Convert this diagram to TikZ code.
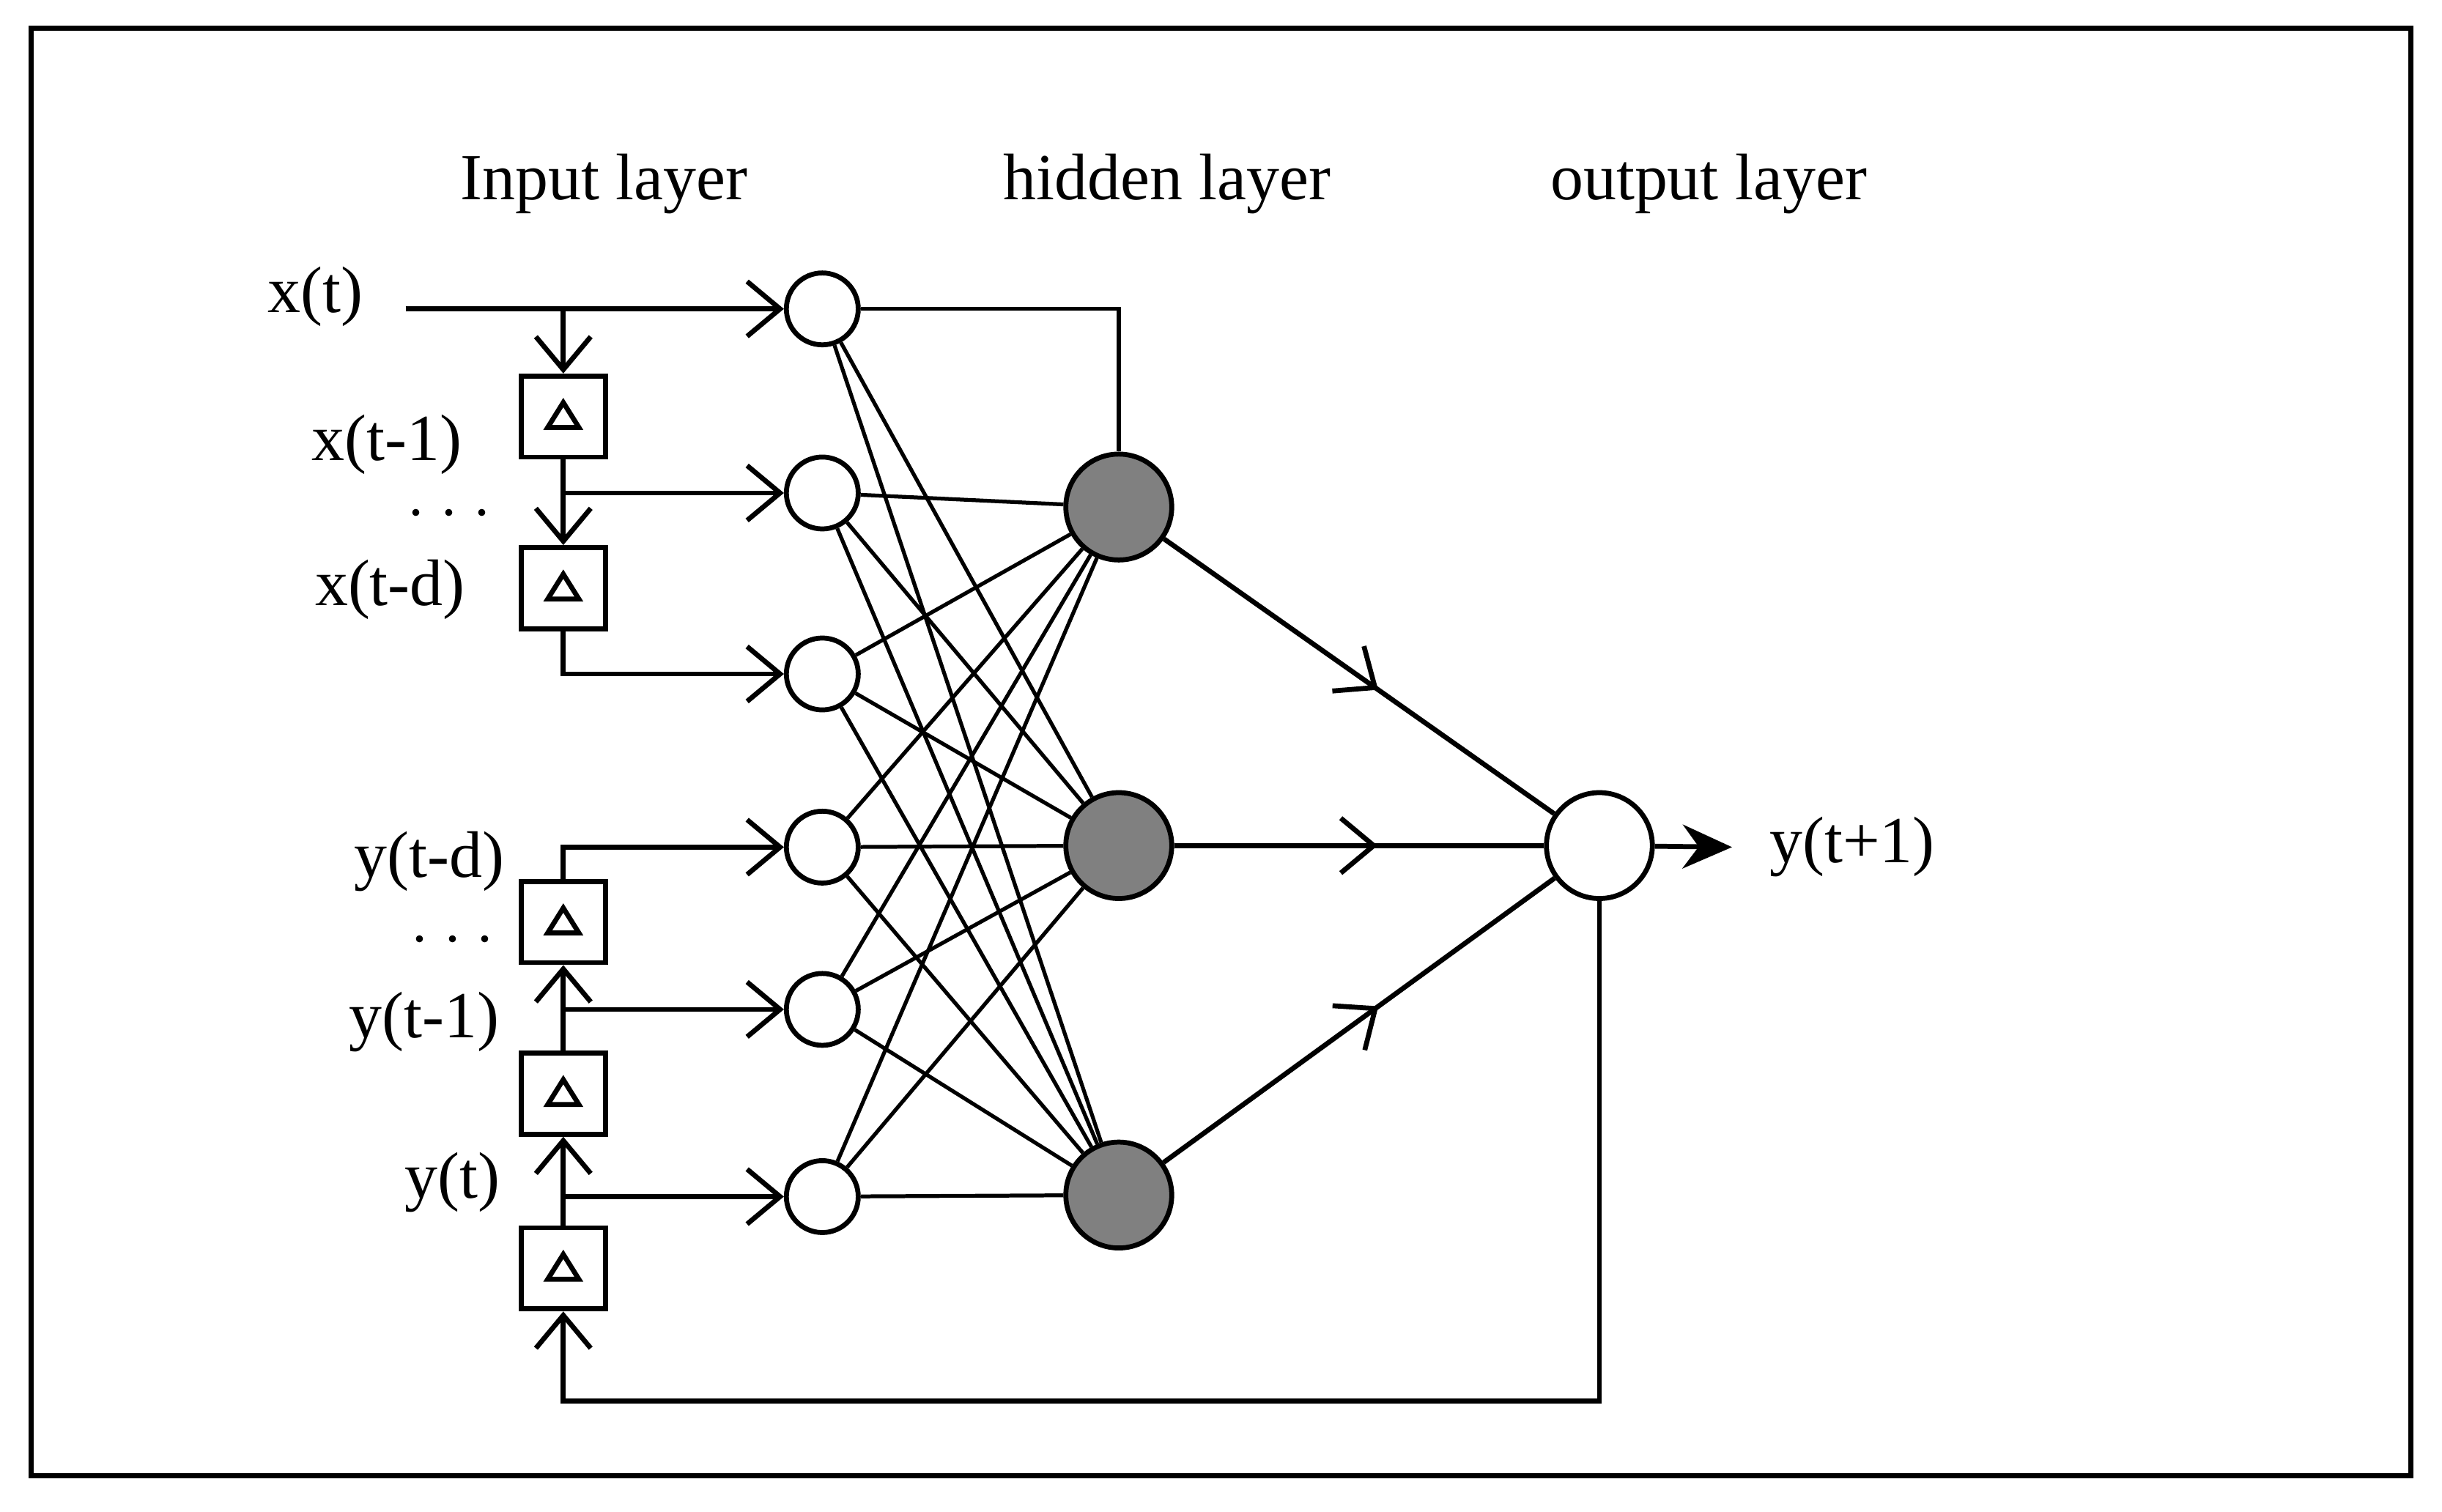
\documentclass[tikz,border=0pt]{standalone}
\usepackage{fontspec}
\setmainfont{Liberation Serif}
\usetikzlibrary{arrows.meta,decorations.markings,calc}
\begin{document}
\begin{tikzpicture}[x=0.01cm,y=-0.01cm,line width=0.9pt,
  barb/.style={-{Straight Barb[length=6pt,width=10pt,line width=0.9pt]}},
  inn/.style={circle,draw,line width=0.9pt,minimum size=13.1pt,inner sep=0pt},
  hid/.style={circle,draw,line width=0.9pt,fill=black!50,minimum size=19.3pt,inner sep=0pt},
  outn/.style={circle,draw,line width=0.9pt,fill=white,minimum size=19.3pt,inner sep=0pt},
  dly/.style={draw,line width=0.9pt,minimum width=15.4pt,minimum height=14.8pt,inner sep=0pt},
  lbl/.style={font=\fontsize{12}{14}\selectfont},
  ttl/.style={font=\fontsize{12}{14}\selectfont},
  midarrow/.style={postaction={decorate},decoration={markings,mark=at position #1 with {\arrow{Straight Barb[length=6pt,width=10pt,line width=0.9pt]}}}}]
\useasboundingbox (0,0) rectangle (1565,968.7);
\draw (20,18) rectangle (1545,946);
\node[ttl] (t1) at (387,118) {Input layer};
\node[ttl] (t2) at (748,118) {hidden layer};
\node[ttl] (t3) at (1095,118) {output layer};
% input nodes
\foreach \n/\y in {1/198,2/316,3/432,4/543,5/647,6/767}
  \node[inn] (i\n) at (527,\y) {};
\foreach \n/\y in {1/325,2/542,3/766}
  \node[hid] (h\n) at (717,\y) {};
\node[outn] (o) at (1025,542) {};
% delay boxes
\foreach \n/\y in {1/267,2/377,3/591,4/701,5/813}{
  \node[dly] (d\n) at (361,\y) {};
  \draw[line width=0.9pt] ($(d\n.center)+(-10,7)$) -- ++(20,0) -- ++(-10,-16) -- cycle;
}
% labels
\node[lbl] (lx0) at (202,190) {x(t)};
\node[lbl] (lx1) at (248,285) {x(t-1)};
\node[lbl] (ld1) at (288,330) {$\cdot\cdot\cdot$};
\node[lbl] (lxd) at (250,378) {x(t-d)};
\node[lbl] (lyd) at (275,552) {y(t-d)};
\node[lbl] (ld2) at (290,603) {$\cdot\cdot\cdot$};
\node[lbl] (ly1) at (272,655) {y(t-1)};
\node[lbl] (ly0) at (290,758) {y(t)};
\node[lbl] (lyo) at (1187,543) {y(t+1)};
% coordinates
\coordinate (xs) at (260,198);
\coordinate (j1) at (361,198);
\coordinate (j2) at (361,316);
\coordinate (j5) at (361,647);
\coordinate (j6) at (361,767);
\coordinate (fb1) at (1025,898);
\coordinate (fb2) at (361,898);
\coordinate (oe) at (1110,543);
% x side
\draw[barb] (xs) -- (i1);
\draw[barb] (j1) -- (d1.north);
\draw (d1.south) -- (j2);
\draw[barb] (j2) -- (d2.north);
\draw[barb] (j2) -- (i2);
\draw[barb] (d2.south) |- (i3);
% y side
\draw[barb] (d3.north) |- (i4);
\draw[barb] (j5) -- (d3.south);
\draw (d4.north) -- (j5);
\draw[barb] (j5) -- (i5);
\draw[barb] (j6) -- (d4.south);
\draw (d5.north) -- (j6);
\draw[barb] (j6) -- (i6);
\draw[barb] (o.south) -- (fb1) -- (fb2) -- (d5.south);
% input to hidden
\foreach \i in {2,...,6}
  \foreach \h in {1,2,3}
    \draw[line width=0.7pt] (i\i) -- (h\h);
\draw[line width=0.7pt] (i1) -- (h2);
\draw[line width=0.7pt] (i1) -- (h3);
\draw[line width=0.7pt] (i1.east) -| (h1.north);
% hidden to output
\foreach \h in {1,2,3}
  \draw[midarrow=0.55] (h\h) -- (o);
\draw[-{Stealth[length=9pt,width=8pt]}] (o) -- (oe);
\end{tikzpicture}
\end{document}
